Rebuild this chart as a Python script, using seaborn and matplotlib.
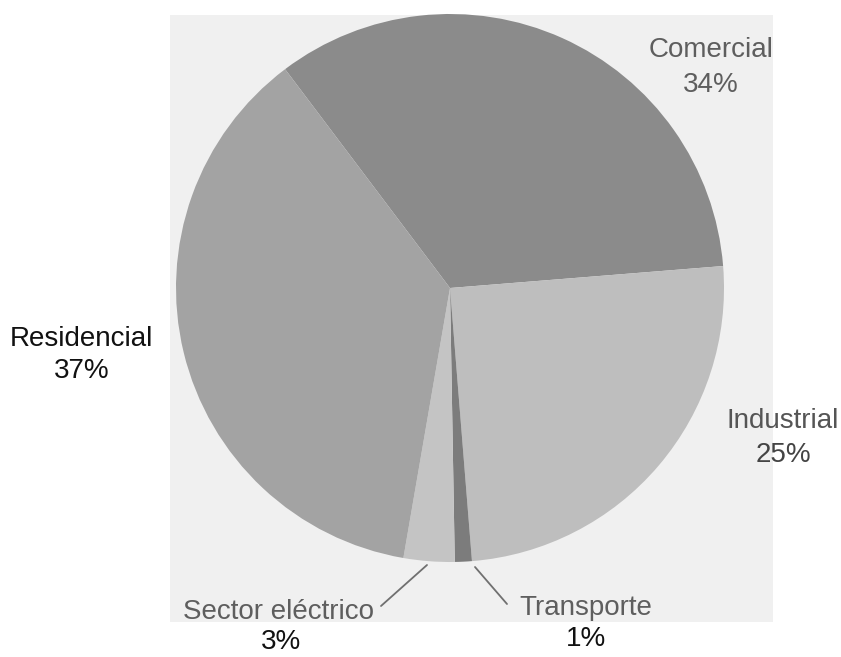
import matplotlib.pyplot as plt
import seaborn as sns
from matplotlib.patches import Rectangle

# Data (order: clockwise from the top-left boundary)
sectors = ["Comercial", "Industrial", "Transporte", "Sector eléctrico", "Residencial"]
shares = [34, 25, 1, 3, 37]
pct_labels = ["34%", "25%", "1%", "3%", "37%"]
colors = ["#8b8b8b", "#bebebe", "#7c7c7c", "#c4c4c4", "#a3a3a3"]

sns.set_theme(style="white")
plt.rcParams['font.family'] = ['Liberation Sans', 'DejaVu Sans']

W, H = 841, 657
fig = plt.figure(figsize=(W / 100, H / 100), dpi=100)
ax = fig.add_axes([0, 0, 1, 1])


def py(y):
    # pixel row -> data y
    return H - y


# light scanned panel behind the pie
ax.add_patch(Rectangle((170, py(622)), 603, 607, facecolor="#f0f0f0",
                       edgecolor="none", zorder=0))

cx, cy, r = 450, 288, 274
ax.pie(shares, colors=colors, startangle=127, counterclock=False,
       center=(cx, py(cy)), radius=r, frame=True,
       wedgeprops=dict(linewidth=0))

# labels: (name x, name baseline, pct x, pct baseline, name colour, pct colour)
label_pos = {
    "Comercial": (711, 57, 711, 92, "#5e5e5e", "#5e5e5e"),
    "Industrial": (783, 428, 783, 462, "#555555", "#444444"),
    "Transporte": (586, 615, 586, 646, "#5e5e5e", "#111111"),
    "Sector eléctrico": (279, 619, 281, 649, "#5e5e5e", "#111111"),
    "Residencial": (81, 346, 82, 378, "#111111", "#111111"),
}
for name, pct in zip(sectors, pct_labels):
    nx, ny, px_, pyy, c1, c2 = label_pos[name]
    ax.text(nx, py(ny), name, ha="center", va="baseline", fontsize=20, color=c1)
    ax.text(px_, py(pyy), pct, ha="center", va="baseline", fontsize=20, color=c2)

# leader lines
ax.plot([427, 381], [py(565), py(606)], color="#707070", lw=1.3)
ax.plot([475, 507], [py(567), py(604)], color="#707070", lw=1.3)

ax.set_xlim(0, W)
ax.set_ylim(0, H)
ax.set_aspect("equal")
ax.axis("off")

fig.savefig("out.png", dpi=100, facecolor="white")
